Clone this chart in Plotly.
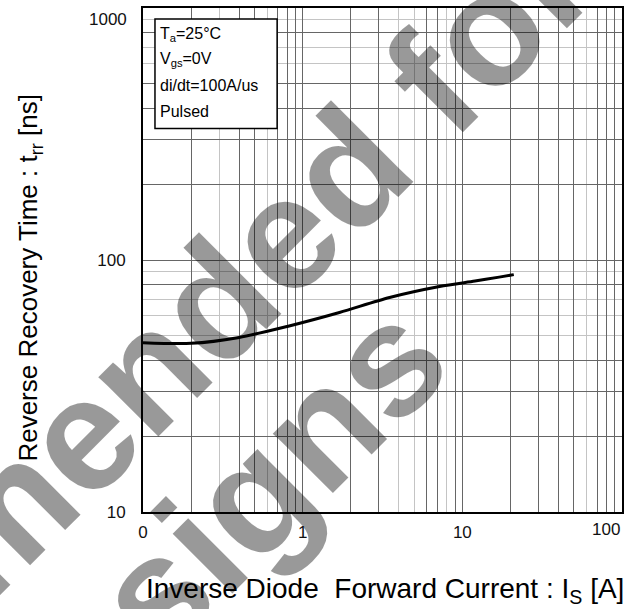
import plotly.graph_objects as go

# data
current_A = [0.1, 0.2, 0.4, 0.8, 1.7, 3.5, 7.2, 12, 17, 21]
trr_ns = [47, 46.7, 49.3, 54.5, 61.9, 71, 78.5, 82.5, 85.5, 87.5]

x_tick_vals = [0.1, 1, 10, 100]
x_tick_text = ["0", "1", "10", "100"]
y_tick_vals = [10, 100, 1000]
y_tick_text = ["10", "100", "1000"]

x_dark = [0.2, 0.4, 0.5, 0.7, 0.8, 0.9, 1, 2, 3, 6, 7, 9, 10, 20, 30, 40, 50, 70, 80, 90]
x_light = [0.3, 0.6, 4, 5, 8, 60]
y_dark = [20, 30, 40, 80, 200, 300, 400, 500, 800]
y_light = [50, 60, 70, 90, 100, 600, 700, 900]

conditions = ["T<sub>a</sub>=25°C", "V<sub>gs</sub>=0V", "di/dt=100A/us", "Pulsed"]
watermark = ["Not recommended for", "new designs"]

FONT = "Liberation Sans, Arial, sans-serif"
DARK = "#666666"
LIGHT = "#c4c4c4"
TICKFONT = dict(family=FONT, size=17, color="#111")

fig = go.Figure()
fig.add_trace(go.Scatter(x=current_A, y=trr_ns, mode="lines",
                         line=dict(color="black", width=3, shape="spline", smoothing=0.8),
                         hoverinfo="skip", showlegend=False))

# edge labels (last x label, top y label) are drawn as annotations so they stay inside the page
x_axis_labels = dict(zip(x_tick_vals[:-1], x_tick_text[:-1]))
y_axis_labels = dict(zip(y_tick_vals[:-1], y_tick_text[:-1]))
xv = sorted(set(x_dark + x_tick_vals))
yv = sorted(set(y_dark + y_tick_vals))

fig.update_xaxes(type="log", range=[-1, 2],
                 tickmode="array", tickvals=xv,
                 ticktext=[x_axis_labels.get(v, "") for v in xv],
                 ticks="", ticklabelstandoff=4, showgrid=True, gridcolor=DARK, gridwidth=1,
                 minor=dict(tickmode="array", tickvals=x_light, showgrid=True,
                            gridcolor=LIGHT, gridwidth=1.3, ticks=""),
                 showline=True, linecolor="black", linewidth=2, mirror=True,
                 zeroline=False, tickfont=TICKFONT)
fig.update_yaxes(type="log", range=[1, 3],
                 tickmode="array", tickvals=yv,
                 ticktext=[y_axis_labels.get(v, "") for v in yv],
                 ticks="", ticklabelstandoff=12, showgrid=True, gridcolor=DARK, gridwidth=1,
                 minor=dict(tickmode="array", tickvals=y_light, showgrid=True,
                            gridcolor=LIGHT, gridwidth=1.3, ticks=""),
                 showline=True, linecolor="black", linewidth=2, mirror=True,
                 zeroline=False, tickfont=TICKFONT)

annotations = []
# watermark
WM = dict(family=FONT, size=160, color="rgba(0,0,0,0.4)", weight="bold")
annotations.append(dict(text=watermark[0], xref="paper", yref="paper", x=-0.348, y=-0.057,
                        xanchor="center", yanchor="middle", showarrow=False, textangle=-45, font=WM))
annotations.append(dict(text=watermark[1], xref="paper", yref="paper", x=-0.136, y=-0.312,
                        xanchor="center", yanchor="middle", showarrow=False, textangle=-45, font=WM))
# edge tick labels
annotations.append(dict(text=x_tick_text[-1], xref="x", yref="paper", x=2, y=0,
                        xanchor="right", yanchor="top", yshift=-6, showarrow=False, font=TICKFONT))
annotations.append(dict(text=y_tick_text[-1], xref="paper", yref="y", x=0, y=3,
                        xanchor="right", yanchor="top", xshift=-14, yshift=0, showarrow=False, font=TICKFONT))
# conditions
line_y = [0.947, 0.897, 0.846, 0.794]
for txt, yy in zip(conditions, line_y):
    annotations.append(dict(text=txt, xref="paper", yref="paper", x=0.032, y=yy,
                            xanchor="left", yanchor="middle", showarrow=False,
                            font=dict(family=FONT, size=16, color="black")))
# axis titles
annotations.append(dict(text="Reverse Recovery Time : t<sub>rr</sub> [ns]", xref="paper", yref="paper",
                        x=-0.236, y=0.465, xanchor="center", yanchor="middle", showarrow=False,
                        textangle=-90, font=dict(family=FONT, size=26, color="black")))
annotations.append(dict(text="Inverse Diode  Forward Current : I<sub>S</sub> [A]", xref="paper", yref="paper",
                        x=0.505, y=-0.156, xanchor="center", yanchor="middle", showarrow=False,
                        font=dict(family=FONT, size=28, color="black")))

fig.update_layout(
    width=635, height=609,
    margin=dict(l=143, r=13, t=6, b=97),
    paper_bgcolor="white", plot_bgcolor="white",
    annotations=annotations,
    shapes=[dict(type="rect", xref="paper", yref="paper", x0=0.025, x1=0.280, y0=0.761, y1=0.978,
                 line=dict(color="black", width=1.5), fillcolor="white", layer="above")],
    showlegend=False,
)

fig.write_html("out.html", config={"displayModeBar": False},
               post_script="document.body.style.margin='0';document.body.style.overflow='hidden';")
